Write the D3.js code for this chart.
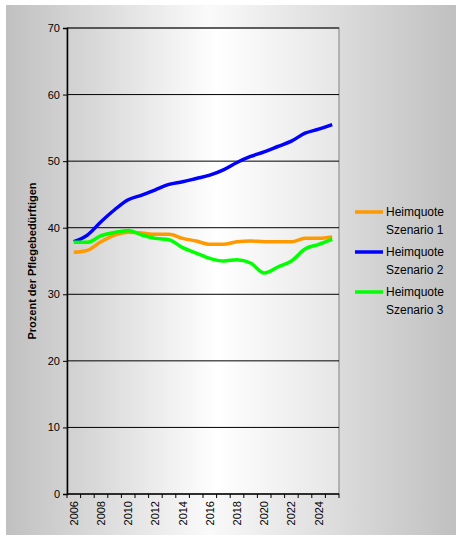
<!DOCTYPE html><html><head><meta charset="utf-8"><script src="https://cdn.jsdelivr.net/npm/d3@7"></script>
<style>body{margin:0;background:#fff}text{font-family:"Liberation Sans",Arial,sans-serif}</style></head><body><svg id="c" width="456" height="540"></svg>
<script>
const years=d3.range(2006,2026);
const tickYears=[2006,2008,2010,2012,2014,2016,2018,2020,2022,2024];
const s1=[36.3,36.6,37.9,38.9,39.3,39.2,39.0,39.0,38.4,38.0,37.5,37.5,37.9,38.0,37.9,37.9,37.9,38.4,38.4,38.6];
const s2=[37.9,38.9,40.9,42.7,44.2,44.9,45.7,46.5,46.9,47.4,47.9,48.7,49.8,50.7,51.4,52.2,53.0,54.2,54.8,55.5];
const s3=[37.8,37.8,38.8,39.3,39.6,38.9,38.4,38.2,37.0,36.2,35.4,35.0,35.2,34.7,33.2,34.1,35.0,36.8,37.5,38.3];
const series=[{n:"Heimquote",s:"Szenario 1",v:s1,c:"#ff9900"},{n:"Heimquote",s:"Szenario 2",v:s2,c:"#0000ff"},{n:"Heimquote",s:"Szenario 3",v:s3,c:"#00ff00"}];
const svg=d3.select("#c");
const defs=svg.append("defs");
const g1=defs.append("linearGradient").attr("id","bg");
g1.append("stop").attr("offset","0").attr("stop-color","#c0c0c0");
g1.append("stop").attr("offset","0.45").attr("stop-color","#fafafa");
g1.append("stop").attr("offset","1").attr("stop-color","#c0c0c0");
const g2=defs.append("linearGradient").attr("id","pl");
g2.append("stop").attr("offset","0").attr("stop-color","#d0d0d0");
g2.append("stop").attr("offset","0.55").attr("stop-color","#ffffff");
g2.append("stop").attr("offset","1").attr("stop-color","#e6e6e6");
svg.append("rect").attr("x",6).attr("y",5).attr("width",450).attr("height",530).attr("fill","url(#bg)");
const L=67,R=339,T=28,B=494;
const x=d3.scaleBand().domain(years).range([L,R]);
const y=d3.scaleLinear().domain([0,70]).range([B,T]);
svg.append("rect").attr("x",L).attr("y",T).attr("width",R-L).attr("height",B-T).attr("fill","url(#pl)").attr("stroke","#808080");
svg.append("g").selectAll("line").data(d3.range(10,71,10)).join("line").attr("x1",L).attr("x2",R).attr("y1",d=>y(d)).attr("y2",d=>y(d)).attr("stroke","#000");
const ya=svg.append("g").attr("transform",`translate(${L},0)`).call(d3.axisLeft(y).tickValues(d3.range(0,71,10)).tickSize(4).tickPadding(3));
ya.select(".domain").attr("stroke","#000").attr("stroke-width",1.5);
ya.selectAll("text").attr("font-size",11).attr("fill","#000").attr("font-family","Liberation Sans, Arial");
const xg=svg.append("g").attr("transform",`translate(0,${B})`);
xg.append("line").attr("x1",L).attr("x2",R).attr("stroke","#000").attr("stroke-width",1.5);
xg.selectAll("line.t").data(d3.range(0,21)).join("line").attr("class","t").attr("x1",i=>L+i*x.step()).attr("x2",i=>L+i*x.step()).attr("y1",0).attr("y2",4).attr("stroke","#000");
xg.selectAll("text").data(tickYears).join("text").attr("transform",d=>`translate(${x(d)+x.bandwidth()/2+4},7) rotate(-90)`).attr("text-anchor","end").attr("font-size",11).text(d=>d);
const line=d3.line().x((d,i)=>x(years[i])+x.bandwidth()/2).y(d=>y(d)).curve(d3.curveMonotoneX);
series.forEach(s=>svg.append("path").attr("d",line(s.v)).attr("fill","none").attr("stroke",s.c).attr("stroke-width",3.5));
svg.append("text").attr("transform","translate(36,261) rotate(-90)").attr("text-anchor","middle").attr("font-size",11).attr("font-weight","bold").text("Prozent der Pflegebedürftigen");
series.forEach((s,i)=>{const yy=212+i*40;
svg.append("line").attr("x1",355).attr("x2",383).attr("y1",yy).attr("y2",yy).attr("stroke",s.c).attr("stroke-width",3.5);
svg.append("text").attr("x",386).attr("y",yy+4).attr("font-size",12).text(s.n);
svg.append("text").attr("x",386).attr("y",yy+22).attr("font-size",12).text(s.s);});
</script></body></html>
